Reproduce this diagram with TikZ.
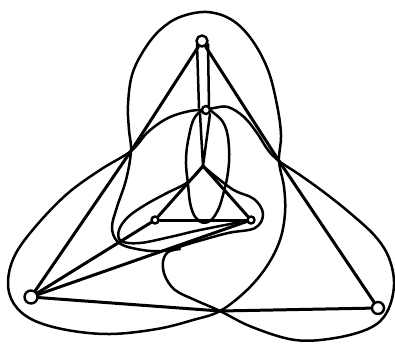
\documentclass[tikz,border=0pt]{standalone}
\usetikzlibrary{backgrounds}
\begin{document}
\begin{tikzpicture}[x=1pt,y=-1pt,
  vtx/.style={circle,draw,line width=2.4pt,fill=white,inner sep=0pt,minimum size=#1},
  vtx/.default=9pt,
  edge/.style={line width=3pt,line cap=round},
  thin edge/.style={line width=2.5pt,line cap=round},
  curve/.style={line width=2.5pt,line join=round,line cap=round}]
\useasboundingbox (0,0) rectangle (395,343);
% vertices
\node[vtx=11pt] (T)  at (202,41)  {};
\node[vtx=8pt]  (M)  at (206,110) {};
\node[vtx=13pt] (BL) at (31,297)  {};
\node[vtx=12pt] (BR) at (378,308) {};
\node[vtx=7pt]  (IL) at (155,220) {};
\node[vtx=7pt]  (IR) at (251,220) {};
\coordinate (IT) at (203,166);
\coordinate (X1) at (131,151);
\coordinate (X2) at (279,161);
\coordinate (X3) at (220,311);
\coordinate (Ta) at (197,44);
\coordinate (Tb) at (208,44);
\coordinate (Ma) at (199,108);
\coordinate (Mb) at (209,108);
\coordinate (Mc) at (200,114);
\coordinate (Md) at (210,114);
\begin{scope}[on background layer]
% straight edges
\draw[edge] (T) -- (X1) -- (BL);
\draw[edge] (T) -- (X2) -- (BR);
\draw[edge] (BL) -- (X3) -- (BR);
\draw[edge] (BL) -- (IL);
\draw[edge] (BL) -- (IR);
\draw[edge] (IL) -- (IR);
\draw[edge] (IL) -- (IT) -- (IR);
\draw[thin edge] (Ta) -- (Ma);
\draw[thin edge] (Tb) -- (Mb);
\draw[thin edge] (Mc) -- (IT) -- (Md);
% ellipse below M
\draw[curve] plot[smooth cycle,tension=0.7] coordinates {(M) (195,117) (189,136) (186,160) (188,184) (191,207) (198,220) (208,222) (217,212) (223,195) (228,172) (229,148) (225,126) (215,114)};
% long curve through the left and top petals
\draw[curve] plot[smooth,tension=0.6] coordinates {(M) (190,111) (168,118) (148,132) (X1) (100,170) (67,194) (36,226) (15,255) (8,282) (14,304) (33,320) (67,330) (110,334) (157,329) (193,320) (X3) (247,290) (267,266) (280,240) (285,213) (284,187) (X2) (281,135) (277,105) (268,70) (252,40) (232,20) (207,12) (180,17) (160,30) (144,50) (132,75) (128,105) (129,130) (X1) (126,180) (117,207) (112,227) (117,241) (132,248) (162,251) (195,242) (228,233) (255,228) (263,214) (254,199) (232,189) (IT)};
% long curve through the right petal
\draw[curve] plot[smooth,tension=0.6] coordinates {(M) (214,108) (228,107) (244,117) (257,133) (268,150) (X2) (300,175) (325,193) (350,213) (375,236) (389,258) (394,285) (387,312) (370,328) (335,338) (295,340) (252,327) (X3) (195,300) (175,290) (165,276) (163,262) (168,252) (180,249)};
% loop around IL
\draw[curve] plot[smooth,tension=0.6] coordinates {(IT) (188,182) (165,194) (145,205) (128,217) (119,230) (121,241) (140,243) (170,237) (200,230) (IR)};
\end{scope}
\end{tikzpicture}
\end{document}
